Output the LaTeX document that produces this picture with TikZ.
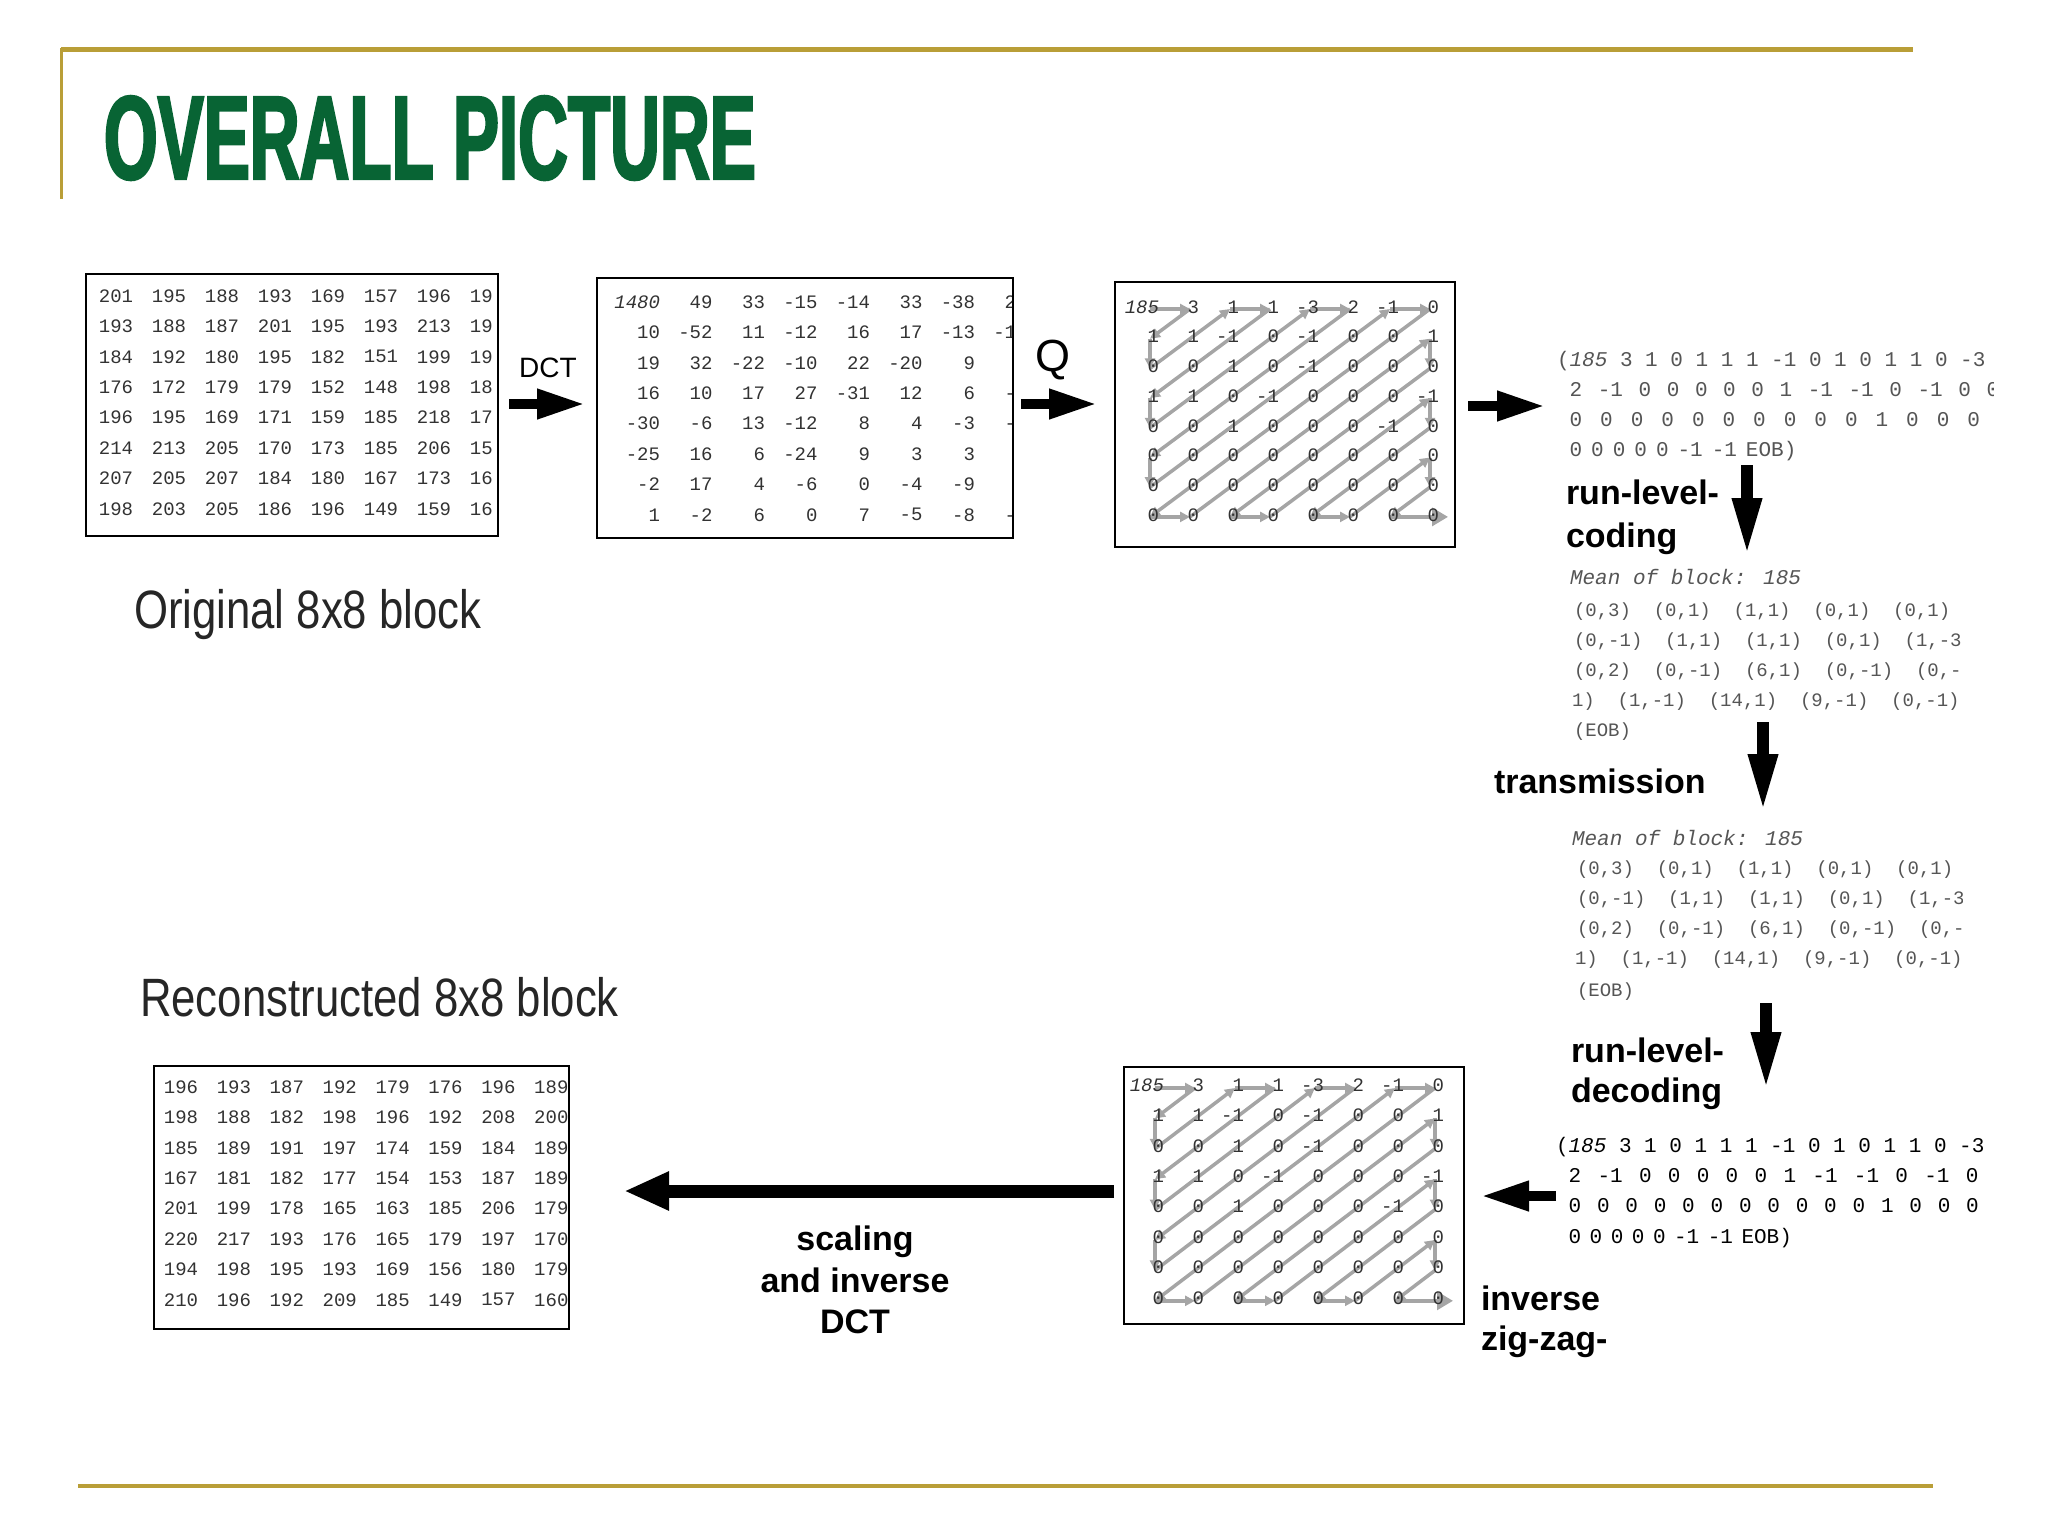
\documentclass[tikz,border=0pt]{standalone}
\usepackage{fontspec}
\setmainfont{Liberation Sans}
\setmonofont{Liberation Mono}
\newfontfamily\titlefont[FakeStretch=0.58,FakeBold=2]{Liberation Sans Bold}
\newfontfamily\capfont[FakeStretch=0.81]{Liberation Sans}
\newfontfamily\numfont{Liberation Mono}
\usetikzlibrary{arrows.meta}
\pgfdeclarelayer{bg}
\pgfsetlayers{bg,main}
\definecolor{gold}{RGB}{185,158,55}
\definecolor{titlegreen}{RGB}{8,100,52}
\definecolor{zzgray}{RGB}{165,165,165}
\definecolor{numgray}{RGB}{50,50,50}
\definecolor{seqgray}{RGB}{85,85,85}
\tikzset{
 every node/.style={inner sep=0pt,outer sep=0pt},
 matbox/.style={draw=black,line width=2.5pt,anchor=north west},
 mnum/.style={font=\numfont\fontsize{19}{19}\selectfont,text=numgray},
 qnum/.style={font=\numfont\fontsize{19}{19}\selectfont,text=numgray,anchor=east},
 seqtext/.style={font=\numfont\fontsize{21}{21}\selectfont,text=seqgray,anchor=base west},
 seqdark/.style={font=\numfont\fontsize{21}{21}\selectfont,text=black,anchor=base west},
 pairtext/.style={font=\numfont\fontsize{19}{19}\selectfont,text=seqgray,anchor=base west},
 meantext/.style={font=\numfont\itshape\fontsize{21}{21}\selectfont,text=seqgray,anchor=base west},
 steplabel/.style={font=\bfseries\fontsize{34}{34}\selectfont,anchor=base west},
 centerlabel/.style={font=\bfseries\fontsize{34}{34}\selectfont,anchor=base},
 caption/.style={font=\capfont\fontsize{54}{54}\selectfont,text=black!85,anchor=base west},
 harrow/.style={line width=10pt,-{Triangle[length=48pt,width=28pt]}},
 varrow/.style={line width=12pt,-{Triangle[length=58pt,width=27pt]}},
 longarrow/.style={line width=13pt,-{Triangle[length=45pt,width=36pt]}},
 zzline/.style={draw=zzgray,line width=3.5pt,-{Triangle[length=10pt,width=10pt]}},
 zzend/.style={draw=zzgray,line width=3.5pt,-{Triangle[length=16pt,width=18pt]}},
}
\newcommand\spc[2]{{\spaceskip=#1pt\relax\hspace*{12.6pt}#2}}
\begin{document}
\begin{tikzpicture}[x=1pt,y=-1pt]
\useasboundingbox (0,0) rectangle (2048,1536);

% title and frame lines
\draw[gold,line width=5pt] (61,50) -- (1913,50);
\draw[gold,line width=3pt] (61,48) -- (61,199);
\draw[gold,line width=4pt] (78,1486) -- (1933,1486);
\node[font=\titlefont\fontsize{119}{119}\selectfont,text=titlegreen,anchor=base west] (title) at (104,179) {OVERALL PICTURE};

% boxes
\node[matbox,minimum width=412pt,minimum height=262pt] (orig) at (86,274) {};
\node[matbox,minimum width=416pt,minimum height=260pt] (dct) at (597,278) {};
\node[matbox,minimum width=340pt,minimum height=265pt] (qbox) at (1115,282) {};
\node[matbox,minimum width=415pt,minimum height=263pt] (recon) at (154,1066) {};
\node[matbox,minimum width=340pt,minimum height=257pt] (izz) at (1124,1067) {};

% original block
\begin{scope}
\clip ([xshift=1.5pt,yshift=-1.5pt]orig.north west) rectangle ([xshift=-6pt,yshift=1.5pt]orig.south east);
\foreach \row [count=\r from 0] in {
 {201,195,188,193,169,157,196,192},
 {193,188,187,201,195,193,213,194},
 {184,192,180,195,182,151,199,193},
 {176,172,179,179,152,148,198,189},
 {196,195,169,171,159,185,218,178},
 {214,213,205,170,173,185,206,155},
 {207,205,207,184,180,167,173,164},
 {198,203,205,186,196,149,159,162}}{
  \foreach \v [count=\j from 0] in \row {
    \node[mnum] (o-\r-\j) at ({116+53*\j},{296+30.4*\r}) {\v};
  }
}
\end{scope}

% DCT block
\begin{scope}
\clip ([xshift=1.5pt,yshift=-1.5pt]dct.north west) rectangle ([xshift=-2pt,yshift=1.5pt]dct.south east);
\foreach \row [count=\r from 0] in {
 {{\textit{1480}},49,33,-15,-14,33,-38,24},
 {10,-52,11,-12,16,17,-13,-16},
 {19,32,-22,-10,22,-20,9,3},
 {16,10,17,27,-31,12,6,-5},
 {-30,-6,13,-12,8,4,-3,-4},
 {-25,16,6,-24,9,3,3,2},
 {-2,17,4,-6,0,-4,-9,7},
 {1,-2,6,0,7,-5,-8,-3}}{
  \foreach \v [count=\j from 0] in \row {
    \node[mnum,anchor=east] (d-\r-\j) at ({660+52.5*\j},{302+30.4*\r}) {\v};
  }
}
\end{scope}

% reconstructed block
\begin{scope}
\clip ([xshift=1.5pt,yshift=-1.5pt]recon.north west) rectangle ([xshift=-1.5pt,yshift=1.5pt]recon.south east);
\foreach \row [count=\r from 0] in {
 {196,193,187,192,179,176,196,189},
 {198,188,182,198,196,192,208,200},
 {185,189,191,197,174,159,184,189},
 {167,181,182,177,154,153,187,189},
 {201,199,178,165,163,185,206,179},
 {220,217,193,176,165,179,197,170},
 {194,198,195,193,169,156,180,179},
 {210,196,192,209,185,149,157,160}}{
  \foreach \v [count=\j from 0] in \row {
    \node[mnum] (r-\r-\j) at ({181+52.9*\j},{1087+30.4*\r}) {\v};
  }
}
\end{scope}

% zig-zag grids
\foreach \r in {0,...,7}{
  \foreach \j in {0,...,7}{
    \coordinate (q-\r-\j) at ({1150+40*\j},{309+29.7*\r});
    \coordinate (z-\r-\j) at ({1155+40*\j},{1088+30.4*\r});
  }
}
\begin{pgfonlayer}{bg}
\foreach \a/\b/\cc/\d in {0/0/0/1,0/1/1/0,1/0/2/0,2/0/0/2,0/2/0/3,0/3/3/0,3/0/4/0,4/0/0/4,
 0/4/0/5,0/5/5/0,5/0/6/0,6/0/0/6,0/6/0/7,0/7/7/0,7/0/7/1,7/1/1/7,1/7/2/7,2/7/7/2,
 7/2/7/3,7/3/3/7,3/7/4/7,4/7/7/4,7/4/7/5,7/5/5/7,5/7/6/7,6/7/7/6}{
  \draw[zzline] (q-\a-\b) -- (q-\cc-\d);
  \draw[zzline] (z-\a-\b) -- (z-\cc-\d);
}
\draw[zzend] (q-7-6) -- ([xshift=18pt]q-7-7);
\draw[zzend] (z-7-6) -- ([xshift=18pt]z-7-7);
\end{pgfonlayer}
\foreach \row [count=\r from 0] in {
 {{\textit{185}},3,1,1,-3,2,-1,0},
 {1,1,-1,0,-1,0,0,1},
 {0,0,1,0,-1,0,0,0},
 {1,1,0,-1,0,0,0,-1},
 {0,0,1,0,0,0,-1,0},
 {0,0,0,0,0,0,0,0},
 {0,0,0,0,0,0,0,0},
 {0,0,0,0,0,0,0,0}}{
  \foreach \v [count=\j from 0] in \row {
    \node[qnum] (qn-\r-\j) at ({1159+40*\j},{307+29.7*\r}) {\v};
    \node[qnum] (zn-\r-\j) at ({1164+40*\j},{1085+30.4*\r}) {\v};
  }
}

% top sequence
\begin{scope}
\clip (1540,330) rectangle (1993,470);
\node[seqtext] (s0) at (1557,366) {(\textit{185} 3 1 0 1 1 1 -1 0 1 0 1 1 0 -3};
\node[seqtext] (s1) at (1557,396) {\spc{15.6}{2 -1 0 0 0 0 0 1 -1 -1 0 -1 0 0}};
\node[seqtext] (s2) at (1557,426) {\spc{18}{0 0 0 0 0 0 0 0 0 0 1 0 0 0 0}};
\node[seqtext] (s3) at (1557,456) {\spc{9}{0 0 0 0 0 -1 -1 EOB)}};
\end{scope}

% bottom sequence
\begin{scope}
\clip (1540,1120) rectangle (1993,1260);
\node[seqdark] (b0) at (1556,1152) {(\textit{185} 3 1 0 1 1 1 -1 0 1 0 1 1 0 -3};
\node[seqdark] (b1) at (1556,1182) {\spc{16.3}{2 -1 0 0 0 0 0 1 -1 -1 0 -1 0}};
\node[seqdark] (b2) at (1556,1212) {\spc{15.8}{0 0 0 0 0 0 0 0 0 0 0 1 0 0 0}};
\node[seqdark] (b3) at (1556,1243) {\spc{8.5}{0 0 0 0 0 -1 -1 EOB)}};
\end{scope}

% run-level pairs (after coding)
\begin{scope}
\clip (1550,550) rectangle (1962,760);
\node[meantext] (m1) at (1570,584) {Mean of block: 185};
\node[pairtext] (p1a) at (1574,616) {(0,3)~~(0,1)~~(1,1)~~(0,1)~~(0,1)};
\node[pairtext] (p1b) at (1574,646) {(0,-1)~~(1,1)~~(1,1)~~(0,1)~~(1,-3};
\node[pairtext] (p1c) at (1574,676) {(0,2)~~(0,-1)~~(6,1)~~(0,-1)~~(0,-};
\node[pairtext] (p1d) at (1572,706) {1)~~(1,-1)~~(14,1)~~(9,-1)~~(0,-1)};
\node[pairtext] (p1e) at (1574,736) {(EOB)};
\end{scope}

% run-level pairs (after transmission)
\begin{scope}
\clip (1550,815) rectangle (1962,1010);
\node[meantext] (m2) at (1572,845) {Mean of block: 185};
\node[pairtext] (p2a) at (1577,874) {(0,3)~~(0,1)~~(1,1)~~(0,1)~~(0,1)};
\node[pairtext] (p2b) at (1577,904) {(0,-1)~~(1,1)~~(1,1)~~(0,1)~~(1,-3};
\node[pairtext] (p2c) at (1577,934) {(0,2)~~(0,-1)~~(6,1)~~(0,-1)~~(0,-};
\node[pairtext] (p2d) at (1575,964) {1)~~(1,-1)~~(14,1)~~(9,-1)~~(0,-1)};
\node[pairtext] (p2e) at (1577,996) {(EOB)};
\end{scope}

% labels
\node[font=\fontsize{28}{28}\selectfont,anchor=base] (dctlbl) at (548,377) {DCT};
\node[font=\fontsize{45}{45}\selectfont,anchor=base] (qlbl) at (1053,371) {Q};
\node[steplabel] (rlc1) at (1566,504) {run-level-};
\node[steplabel] (rlc2) at (1566,547) {coding};
\node[steplabel] (trans) at (1494,793) {transmission};
\node[steplabel] (rld1) at (1571,1062) {run-level-};
\node[steplabel] (rld2) at (1571,1102) {decoding};
\node[steplabel] (inv1) at (1481,1310) {inverse};
\node[steplabel] (inv2) at (1481,1350) {zig-zag-};
\node[centerlabel] (sc1) at (855,1250) {scaling};
\node[centerlabel] (sc2) at (855,1292) {and inverse};
\node[centerlabel] (sc3) at (855,1333) {DCT};
\node[caption] (cap1) at (134,628) {Original 8x8 block};
\node[caption] (cap2) at (140,1016) {Reconstructed 8x8 block};

% arrows
\draw[harrow,shorten <=11pt,shorten >=12pt] ([yshift=1pt]orig.east) -- ([yshift=1pt]orig.east -| dct.west);
\draw[harrow,shorten <=8pt,shorten >=18pt] ([yshift=4pt]dct.east) -- ([yshift=4pt]dct.east -| qbox.west);
\draw[harrow,shorten <=13pt,shorten >=12pt] ([yshift=8.5pt]qbox.east) -- ([yshift=8.5pt]qbox.east -| s0.west);
\coordinate (v1s) at (1747,465);
\coordinate (v1e) at (1747,556);
\coordinate (v2s) at (1763,722);
\coordinate (v2e) at (1763,812);
\coordinate (v3s) at (1766,1003);
\coordinate (v3e) at (1766,1090);
\draw[varrow] (v1s) -- (v1e);
\draw[varrow] (v2s) -- (v2e);
\draw[varrow] (v3s) -- (v3e);
\draw[harrow,shorten >=17pt] ([yshift=-0.5pt]izz.east -| b0.west) -- ([yshift=-0.5pt]izz.east);
\draw[longarrow,shorten <=10pt,shorten >=55pt] ([yshift=4.5pt]izz.west) -- ([yshift=4.5pt]izz.west -| recon.east);
\end{tikzpicture}
\end{document}
